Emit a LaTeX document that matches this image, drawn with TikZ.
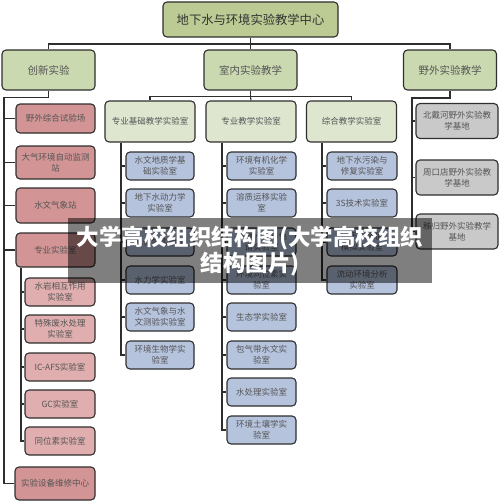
\documentclass[tikz,border=0pt]{standalone}
\usepackage{fontspec}
\newfontfamily\cjk{Noto Sans CJK SC}
\definecolor{gtop}{HTML}{BBCB93}
\definecolor{gmid}{HTML}{CBD9B0}
\definecolor{glow}{HTML}{DEE6D0}
\definecolor{rdark}{HTML}{D29494}
\definecolor{rlight}{HTML}{E0AEAE}
\definecolor{bluebx}{HTML}{B6C3DD}
\definecolor{graybx}{HTML}{C9C9C9}
\definecolor{edge}{HTML}{2E2E2E}
\definecolor{txt}{HTML}{555555}
\tikzset{
  box/.style={draw=edge, line width=1.1pt, rounded corners=4pt, align=center,
    inner sep=1pt, font=\cjk\fontsize{8.5}{11}\selectfont, text=txt},
  topbox/.style={box, fill=gtop, minimum width=175pt, minimum height=35pt,
    font=\cjk\fontsize{12.3}{14}\selectfont, text=black!80},
  midbox/.style={box, fill=gmid, minimum width=93pt, minimum height=40pt,
    font=\cjk\fontsize{10.5}{13}\selectfont},
  lowbox/.style={box, fill=glow, minimum width=90pt, minimum height=41pt},
  redbox/.style={box, fill=rdark, minimum width=79pt},
  pinkbox/.style={box, fill=rlight, minimum width=70pt, minimum height=28pt},
  bluebox/.style={box, fill=bluebx, minimum height=28pt},
  graybox/.style={box, fill=graybx, minimum width=82pt, minimum height=35pt},
  link/.style={draw=edge, line width=1.1pt}
}
\begin{document}
\begin{tikzpicture}[x=1pt,y=-1pt]
\useasboundingbox (0,0) rectangle (500,503);
% level 1-2
\node[topbox] (top) at (250.5,19.5) {地下水与环境实验教学中心};
\node[midbox] (inn) at (48.5,70) {创新实验};
\node[midbox] (snei) at (250.5,70) {室内实验教学};
\node[midbox] (ywai) at (450,70) {野外实验教学};
% level 3 green
\node[lowbox] (jc) at (150,121.5) {专业基础教学实验室};
\node[lowbox] (zy) at (251,121.5) {专业教学实验室};
\node[lowbox] (zh) at (351.5,121.5) {综合教学实验室};
% red
\node[redbox, minimum height=29pt] (r1) at (55.5,118.5) {野外综合试验场};
\node[redbox, minimum height=33pt] (r2) at (55.5,162.5) {大气环境自动监测\\站};
\node[redbox, minimum height=35pt] (r3) at (55.5,205.5) {水文气象站};
\node[redbox, minimum height=34pt] (r4) at (55.5,250) {专业实验室};
\node[redbox, minimum width=80pt, minimum height=33pt] (r5) at (55,483.5) {实验设备维修中心};
% pink
\node[pinkbox] (p1) at (60,292) {水岩相互作用\\实验室};
\node[pinkbox] (p2) at (60,329) {特殊废水处理\\实验室};
\node[pinkbox] (p3) at (60,367) {IC-AFS实验室};
\node[pinkbox] (p4) at (60,404) {GC实验室};
\node[pinkbox] (p5) at (60,441) {同位素实验室};
% blue col 1
\node[bluebox, minimum width=68pt] (a1) at (160,166) {水文地质学基\\础实验室};
\node[bluebox, minimum width=68pt] (a2) at (160,203) {地下水动力学\\实验室};
\node[bluebox, minimum width=68pt] (a3) at (160,242) {水化学实验室};
\node[bluebox, minimum width=68pt] (a4) at (160,280) {水力学实验室};
\node[bluebox, minimum width=68pt] (a5) at (160,317) {水文气象与水\\文测验实验室};
\node[bluebox, minimum width=68pt] (a6) at (160,355) {环境生物学实\\验室};
% blue col 2
\node[bluebox, minimum width=69pt] (b1) at (261.5,166) {环境有机化学\\实验室};
\node[bluebox, minimum width=69pt] (b2) at (261.5,203) {溶质运移实验\\室};
\node[bluebox, minimum width=69pt] (b3) at (261.5,242) {环境光谱与色\\谱实验室};
\node[bluebox, minimum width=69pt] (b4) at (261.5,280) {环境同位素实\\验室};
\node[bluebox, minimum width=69pt] (b5) at (261.5,317) {生态学实验室};
\node[bluebox, minimum width=69pt] (b6) at (261.5,355) {包气带水文实\\验室};
\node[bluebox, minimum width=69pt] (b7) at (261.5,392) {水处理实验室};
\node[bluebox, minimum width=69pt] (b8) at (261.5,430) {环境土壤学实\\验室};
% blue col 3
\node[bluebox, minimum width=70pt] (c1) at (362,166) {地下水污染与\\修复实验室};
\node[bluebox, minimum width=70pt] (c2) at (362,203) {3S技术实验室};
\node[bluebox, minimum width=70pt] (c3) at (362,242) {地下水数值\\模拟实验室};
\node[bluebox, minimum width=70pt] (c4) at (362,280) {流动环境分析\\实验室};
% gray
\node[graybox] (g1) at (457,121) {北戴河野外实验教\\学基地};
\node[graybox] (g2) at (457,177.5) {周口店野外实验教\\学基地};
\node[graybox] (g3) at (457,231.5) {秭归野外实验教学\\基地};
% connectors
\coordinate (bus1) at (250.5,44);
\coordinate (bus2) at (250.5,96.5);
\coordinate (ib) at (4,97.5);
\coordinate (yb) at (412,98);
\coordinate (pv) at (21,0);
\coordinate (av) at (121,0);
\coordinate (bv) at (222,0);
\coordinate (cv) at (322,0);
\draw[link] (top.south) -- (bus1);
\draw[link] (inn.north) |- (bus1) -| (ywai.north);
\draw[link] (bus1) -- (snei.north);
\draw[link] (snei.south) -- (bus2);
\draw[link] (jc.north) |- (bus2) -| (zh.north);
\draw[link] (bus2) -- (zy.north);
\draw[link] (inn.south) |- (ib) |- (r5.west);
\foreach \n in {r1,r2,r3,r4} \draw[link] (\n.west) -- (\n.west -| ib);
\draw[link] (ywai.south) |- (yb) |- (g3.west);
\foreach \n in {g1,g2} \draw[link] (\n.west) -- (\n.west -| yb);
\draw[link] (r4.south -| pv) |- (p5.west);
\foreach \n in {p1,p2,p3,p4} \draw[link] (\n.west) -- (\n.west -| pv);
\draw[link] (jc.south -| av) |- (a6.west);
\foreach \n in {a1,a2,a3,a4,a5} \draw[link] (\n.west) -- (\n.west -| av);
\draw[link] (zy.south -| bv) |- (b8.west);
\foreach \n in {b1,b2,b3,b4,b5,b6,b7} \draw[link] (\n.west) -- (\n.west -| bv);
\draw[link] (zh.south -| cv) |- (c4.west);
\foreach \n in {c1,c2,c3} \draw[link] (\n.west) -- (\n.west -| cv);
% watermark band
\fill[black, opacity=0.5] (68,218) rectangle (432,283);
\node[text=white, font=\cjk\bfseries\fontsize{22.5}{26}\selectfont, align=center, inner sep=0pt] (wm) at (250,251)
  {大学高校组织结构图(大学高校组织\\结构图片)};
\end{tikzpicture}
\end{document}
